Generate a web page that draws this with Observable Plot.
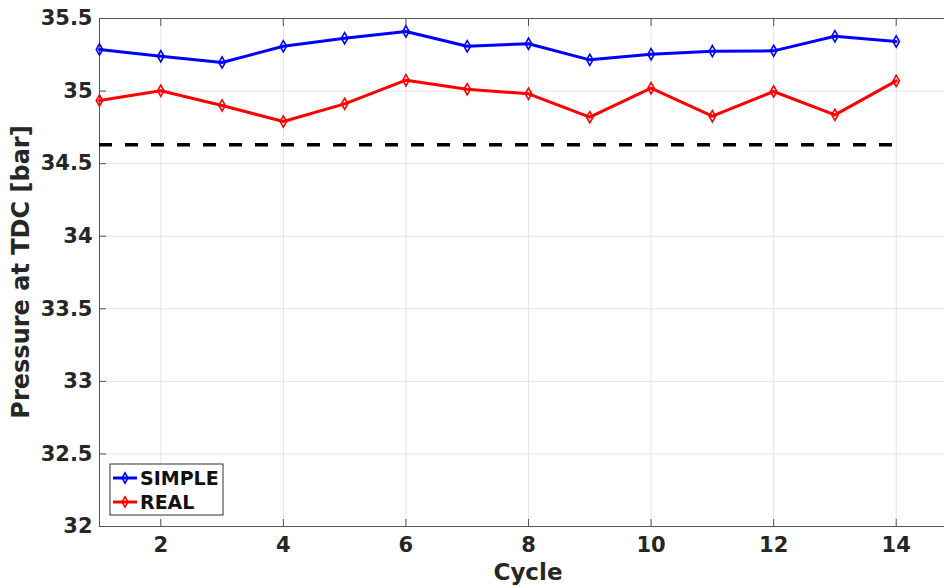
<!DOCTYPE html>
<html>
<head>
<meta charset="utf-8">
<script src="https://cdn.jsdelivr.net/npm/d3@7"></script>
<script src="https://cdn.jsdelivr.net/npm/@observablehq/plot@0.6"></script>
<style>
  html, body { margin: 0; padding: 0; background: #fff; overflow: hidden; }
  #chart svg { max-width: none !important; display: block; }
</style>
</head>
<body>
<div id="chart"></div>
<script>
// Pressure at TDC per engine cycle for two models
const cycles = [1, 2, 3, 4, 5, 6, 7, 8, 9, 10, 11, 12, 13, 14];
const simple = [35.286, 35.240, 35.197, 35.309, 35.364, 35.410, 35.309, 35.326, 35.215, 35.254, 35.275, 35.277, 35.378, 35.342];
const real   = [34.935, 35.002, 34.901, 34.790, 34.912, 35.075, 35.013, 34.981, 34.820, 35.020, 34.827, 34.997, 34.836, 35.070];
const reference = 34.63;
const seriesNames = ["SIMPLE", "REAL"];
const seriesColors = ["#0000ff", "#ff0000"];
const xTicks = [2, 4, 6, 8, 10, 12, 14];
const yTicks = [32, 32.5, 33, 33.5, 34, 34.5, 35, 35.5];

const rows = seriesNames.flatMap((name, i) =>
  cycles.map((c, j) => ({cycle: c, value: [simple, real][i][j], series: name}))
);

const axisColor = "#555";
const gridColor = "#e3e3e3";
const textColor = "#262626";

const plot = Plot.plot({
  width: 957,
  height: 587,
  marginLeft: 99,
  marginRight: 0,
  marginTop: 18,
  marginBottom: 61,
  style: {fontFamily: "DejaVu Sans", fontWeight: "bold", fontSize: "21px", color: textColor, background: "white"},
  x: {domain: [1, 15]},
  y: {domain: [32, 35.5]},
  color: {domain: seriesNames, range: seriesColors},
  marks: [
    Plot.gridX(xTicks, {stroke: gridColor, strokeOpacity: 1}),
    Plot.gridY(yTicks, {stroke: gridColor, strokeOpacity: 1}),
    Plot.frame({stroke: axisColor, strokeWidth: 1}),
    Plot.axisX(xTicks, {anchor: "bottom", tickSize: -7, tickPadding: 18, stroke: axisColor, fill: textColor, fontSize: 21, label: null, tickFormat: d => String(d)}),
    Plot.axisX(xTicks, {anchor: "top", tickSize: -7, stroke: axisColor, label: null, tickFormat: () => ""}),
    Plot.axisY(yTicks, {anchor: "left", tickSize: -7, tickPadding: 14, stroke: axisColor, fill: textColor, fontSize: 21, label: null, tickFormat: d => String(d)}),
    Plot.ruleY([reference], {x1: d3.min(cycles), x2: d3.max(cycles), stroke: "black", strokeWidth: 3.5, strokeDasharray: "13,13"}),
    Plot.line(rows, {x: "cycle", y: "value", z: "series", stroke: "series", strokeWidth: 3}),
    Plot.dot(rows, {x: "cycle", y: "value", stroke: "series", symbol: "diamond", r: 3.4, strokeWidth: 1.6, fill: "none"})
  ]
});

document.getElementById("chart").appendChild(plot);

const svg = d3.select(plot);

// Axis titles
svg.append("text")
  .attr("x", 528).attr("y", 580)
  .attr("text-anchor", "middle")
  .attr("font-family", "DejaVu Sans").attr("font-weight", "bold").attr("font-size", 23)
  .attr("fill", textColor).text("Cycle");
svg.append("text")
  .attr("transform", "translate(29,272) rotate(-90)")
  .attr("text-anchor", "middle")
  .attr("font-family", "DejaVu Sans").attr("font-weight", "bold").attr("font-size", 24)
  .attr("fill", textColor).text("Pressure at TDC [bar]");

// Legend box in the lower-left corner of the plot area
const lg = svg.append("g").attr("transform", "translate(110,464)");
lg.append("rect").attr("width", 113).attr("height", 51)
  .attr("fill", "white").attr("stroke", "#333").attr("stroke-width", 1);
seriesNames.forEach((name, i) => {
  const y = 14 + i * 24;
  const row = lg.append("g").attr("transform", `translate(0,${y})`);
  row.append("line").attr("x1", 3).attr("x2", 27).attr("y1", 0).attr("y2", 0)
    .attr("stroke", seriesColors[i]).attr("stroke-width", 3);
  row.append("path").attr("d", d3.symbol(d3.symbolDiamond, 30)())
    .attr("transform", "translate(15,0)")
    .attr("fill", "none").attr("stroke", seriesColors[i]).attr("stroke-width", 1.6);
  row.append("text").attr("x", 30).attr("y", 0).attr("dy", "0.35em")
    .attr("text-anchor", "start")
    .attr("font-size", 19).attr("font-weight", "bold").attr("fill", "#111")
    .attr("font-family", "DejaVu Sans").text(name);
});
</script>
</body>
</html>
